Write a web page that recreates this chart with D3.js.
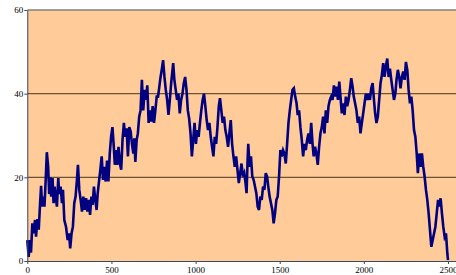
<html>
<script src="https://d3js.org/d3.v7.min.js"></script>
<body style="margin:0;background:#fff">
</body>
</html>

<script type="text/javascript">

// walk values (step, value)
var steps = [0,8,16,22,30,38,46,52,60,68,76,82,88,96,102,110,116,124,130,136,142,150,156,162,170,176,184,190,198,206,212,220,230,240,248,255,263,271,279,287,295,301,309,317,325,333,341,349,357,365,373,381,388,396,404,412,418,426,434,442,450,458,466,474,482,490,498,506,514,520,528,534,542,550,558,566,574,582,590,598,606,614,622,630,636,642,650,657,665,673,681,689,697,705,713,721,729,737,745,753,761,769,777,791,799,807,815,823,831,839,847,855,867,874,882,890,898,906,914,922,930,938,946,954,962,970,978,986,994,1002,1010,1018,1026,1034,1042,1050,1058,1066,1074,1082,1090,1098,1106,1114,1122,1130,1138,1145,1153,1161,1169,1177,1185,1193,1201,1209,1217,1225,1233,1241,1249,1257,1265,1273,1281,1289,1297,1303,1309,1313,1321,1329,1337,1345,1353,1361,1369,1377,1385,1393,1401,1409,1417,1425,1432,1440,1448,1456,1464,1472,1480,1488,1496,1504,1512,1520,1528,1536,1544,1552,1560,1568,1576,1584,1592,1600,1607,1615,1623,1631,1639,1647,1655,1663,1671,1679,1687,1695,1702,1710,1718,1726,1734,1742,1750,1758,1766,1774,1782,1790,1798,1806,1814,1822,1830,1838,1846,1854,1861,1869,1877,1885,1893,1901,1909,1917,1925,1933,1940,1948,1956,1964,1972,1980,1988,1996,2004,2012,2020,2028,2036,2044,2052,2060,2067,2075,2083,2091,2099,2107,2115,2123,2131,2139,2147,2155,2163,2171,2179,2187,2194,2202,2210,2218,2226,2234,2242,2250,2258,2266,2274,2282,2290,2298,2306,2314,2321,2329,2337,2345,2353,2361,2369,2377,2385,2393,2401,2409,2417,2425,2433,2441,2449,2456,2464,2472,2480,2488,2496,2500];
var values = [5,1,5,2,9,6.6,9.8,5.8,10,7.5,13.8,18,13,15.4,13,20,26,22.5,16,20,15.4,19.8,13.8,17.8,15,13,19.8,16,17.8,13.8,17,9.8,8.2,5,6.6,3,6.6,8.2,13.8,15.4,19.4,23,17,14.6,11.8,15.4,12.2,15,11.8,14.6,11,15.4,13.4,17.8,14.6,12.2,16,19,21.8,25,19.4,22.5,19,24,19,25.7,29.7,32,27.3,23,26.5,23,27.3,23.3,21.8,29,33,29.7,31.7,25,32,31,28,25.7,29.3,23.7,29,30.5,34.5,36,43.3,36,40.9,38.5,42,33,36,33.3,37,33,36,39.3,39.3,43.7,45.7,48,44,40.9,38.5,34.9,38.5,42.5,47.3,43.3,40.9,38.5,40,35.3,38.5,40,42.5,44,40.9,36,34,30.5,25,29,33,28,31.3,29.7,33,36,38.5,40,37,33.7,31.3,33,29.7,27.3,25,29.7,28,32,37,38.9,36,33,34.5,31.3,29.7,27.3,30.5,33.7,28,25,22.5,25,21.8,18.6,21,23.3,20.2,21,18.6,16.2,24.1,28,22.5,25,20.2,19.4,17.8,16.2,13,12.2,15.4,14.6,17.8,17,21,20.2,17.8,15.4,13.8,12.2,9,11.4,14.6,15.4,20.2,26.5,25,26.5,25.7,23.3,28,33,36,38.5,40.9,41.3,39.3,37.7,34.9,36,32,29,25,28,26.5,29,30.5,28,33,28,25,27.3,25.7,23,27.3,30.5,32,34.5,30.5,36,33,37,38.5,39.3,38.5,42,39.3,41.7,38.5,42.9,39.3,35.3,37.7,34.9,39.3,37,38.5,40.9,43.7,41.7,39.3,37.7,36,33,34.5,30.5,33,35.3,37.7,40,38.5,40,38.5,41.3,42.5,38.5,35.3,33,34.5,38.5,42.5,44.5,47.3,44,46.5,48.4,44,46,43.3,40.9,38.5,40,43.3,45.7,44,41.3,44,45.3,43.3,47.6,45.7,40.9,37.7,39.3,36,31.3,29.7,25.7,21,25.7,22.5,25.7,22.5,20.2,17,14.6,11.4,7.4,3.4,5,6.6,8.2,11.4,14.6,13,15,11.4,8.2,5.8,6.6,1.8,0.2];

var xTicks = [0,500,1000,1500,2000,2500];
var yTicks = [0,20,40,60];
var gridVals = [20,40];

var W = 456, H = 275;
var mLeft = 27.3, mTop = 10, mBottom = 261, plotRight = 456;

var svg = d3.select("body")
	.append("svg")
	.attr("width", W)
	.attr("height", H)
	.style("display", "block");

var x_scale = d3.scaleLinear().domain([0, 2500]).range([mLeft, 448]);
var y_scale = d3.scaleLinear().domain([0, 60]).range([mBottom, mTop]);

// plot area
svg.append("rect")
	.attr("x", mLeft).attr("y", mTop)
	.attr("width", plotRight - mLeft).attr("height", mBottom - mTop)
	.attr("fill", "#FFCC99");

// gridlines
svg.selectAll(".grid").data(gridVals).enter().append("line")
	.attr("class", "grid")
	.attr("x1", mLeft).attr("x2", plotRight)
	.attr("y1", function(d){ return y_scale(d); })
	.attr("y2", function(d){ return y_scale(d); })
	.attr("stroke", "#6e5236")
	.attr("stroke-width", 1.3);

// top border
svg.append("line")
	.attr("x1", mLeft).attr("x2", plotRight)
	.attr("y1", y_scale(60)).attr("y2", y_scale(60))
	.attr("stroke", "#808080").attr("stroke-width", 1.5);

// the walk
var line = d3.line()
	.x(function(d, i){ return x_scale(steps[i]); })
	.y(function(d){ return y_scale(d); });

svg.append("path")
	.datum(values)
	.attr("d", line)
	.attr("fill", "none")
	.attr("stroke", "#000080")
	.attr("stroke-width", 2.6)
	.attr("stroke-linejoin", "miter");

// axes
var xAxis = svg.append("g")
	.attr("transform", "translate(0," + mBottom + ")")
	.call(d3.axisBottom(x_scale).tickValues(xTicks).tickSize(3).tickSizeOuter(0).tickFormat(d3.format("d")));

var yAxis = svg.append("g")
	.attr("transform", "translate(" + mLeft + ",0)")
	.call(d3.axisLeft(y_scale).tickValues(yTicks).tickSize(3).tickSizeOuter(0));

xAxis.select(".domain").attr("d", "M" + mLeft + ",0.5H" + plotRight);
[xAxis, yAxis].forEach(function(a){
	a.selectAll(".domain, line").attr("stroke", "#3a4a60");
	a.selectAll("text")
		.style("font-family", "'Liberation Serif', serif")
		.style("font-size", "9px")
		.attr("fill", "#000");
});
xAxis.selectAll("text").attr("dy", "0.9em").attr("y", 4);
yAxis.selectAll("text").attr("x", -4);

</script>
